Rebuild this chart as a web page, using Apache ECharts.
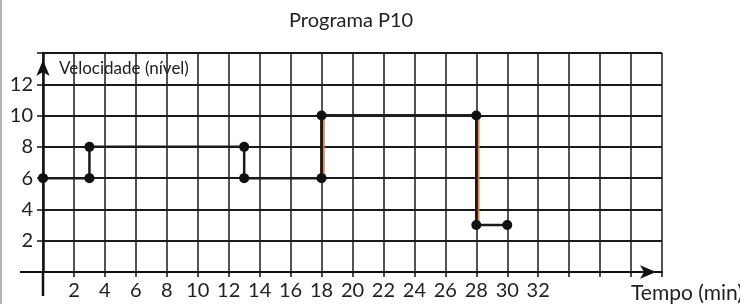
<!DOCTYPE html>
<html>
<head>
<meta charset="utf-8">
<script src="https://cdn.jsdelivr.net/npm/echarts@6/dist/echarts.min.js"></script>
<style>
html,body{margin:0;padding:0;background:#fff;}
#c{width:740px;height:304px;}
</style>
</head>
<body>
<div id="c"></div>
<script>
var titleText = 'Programa P10';
var xName = 'Tempo (min)';
var yName = 'Velocidade (nível)';
var timeMin = [0, 3, 3, 13, 13, 18, 18, 28, 28, 30];
var speedLevel = [6, 6, 8, 8, 6, 6, 10, 10, 3, 3];
var xTickLabels = [2, 4, 6, 8, 10, 12, 14, 16, 18, 20, 22, 24, 26, 28, 30, 32];
var yTickLabels = [2, 4, 6, 8, 10, 12];

var FONT = 'Lato';
var TXT = '#222';
var chart = echarts.init(document.getElementById('c'), null, {renderer: 'canvas'});
var pts = timeMin.map(function (t, i) { return [t, speedLevel[i]]; });

var option = {
  animation: false,
  backgroundColor: '#fff',
  title: {
    text: titleText, left: 284, top: 6,
    textStyle: {fontFamily: FONT, fontSize: 20, fontWeight: 'normal', color: TXT}
  },
  grid: {left: 43, top: 53, width: 619, height: 219, containLabel: false, outerBoundsMode: 'none'},
  xAxis: {
    type: 'value', min: 0, max: 40, interval: 2,
    name: xName, nameLocation: 'end', nameGap: -31,
    nameTextStyle: {fontFamily: FONT, fontSize: 21, color: TXT, verticalAlign: 'top', align: 'left', padding: [11, 0, 0, 0]},
    axisLine: {show: true, lineStyle: {color: '#111', width: 2}, symbol: ['none', 'arrow'], symbolSize: [10, 16], symbolOffset: [0, -6]},
    axisTick: {show: true, length: 5, lineStyle: {color: '#111', width: 1.5}},
    axisLabel: {
      margin: 9, fontFamily: FONT, fontSize: 20, color: TXT,
      formatter: function (v) { return xTickLabels.indexOf(v) >= 0 ? String(v) : ''; }
    },
    splitLine: {show: true, lineStyle: {color: '#1a1a1a', width: 1.5}}
  },
  yAxis: {
    type: 'value', min: 0, max: 14, interval: 2,
    name: yName, nameLocation: 'end', nameGap: -24,
    nameTextStyle: {fontFamily: FONT, fontSize: 17, color: TXT, align: 'left', padding: [0, 0, 0, 16]},
    axisLine: {show: true, lineStyle: {color: '#111', width: 2.5}, symbol: ['none', 'arrow'], symbolSize: [10, 16], symbolOffset: [0, -7]},
    axisTick: {show: true, length: 6, lineStyle: {color: '#111', width: 1.5}},
    axisLabel: {
      margin: 10, fontFamily: FONT, fontSize: 20, color: TXT,
      formatter: function (v) { return yTickLabels.indexOf(v) >= 0 ? String(v) : ''; }
    },
    splitLine: {show: true, lineStyle: {color: '#1a1a1a', width: 1.8}}
  },
  series: [{
    type: 'line',
    data: pts.slice(5, 9),
    symbol: 'none',
    silent: true,
    lineStyle: {color: '#1a1a1a', width: 2.5, shadowColor: 'rgba(232,120,60,0.9)', shadowBlur: 0, shadowOffsetX: 2, shadowOffsetY: 0},
    z: 4
  }, {
    type: 'line',
    data: pts,
    symbol: 'circle',
    symbolSize: 10,
    itemStyle: {color: '#111'},
    lineStyle: {color: '#1a1a1a', width: 2.5},
    z: 5
  }]
};
chart.setOption(option);

// axis extensions (below x-axis for y-axis line, left of y-axis for x-axis line) and left frame
var o = chart.convertToPixel({gridIndex: 0}, [0, 0]);
chart.setOption({
  graphic: [
    {type: 'line', shape: {x1: o[0], y1: o[1], x2: o[0], y2: o[1] + 24}, style: {stroke: '#111', lineWidth: 2.5}, z: 10},
    {type: 'line', shape: {x1: o[0] - 23, y1: o[1], x2: o[0], y2: o[1]}, style: {stroke: '#111', lineWidth: 2}, z: 10},
    {type: 'line', shape: {x1: 1, y1: 0, x2: 1, y2: 304}, style: {stroke: '#9a9a9a', lineWidth: 1.5}, z: 10}
  ]
});
</script>
</body>
</html>
